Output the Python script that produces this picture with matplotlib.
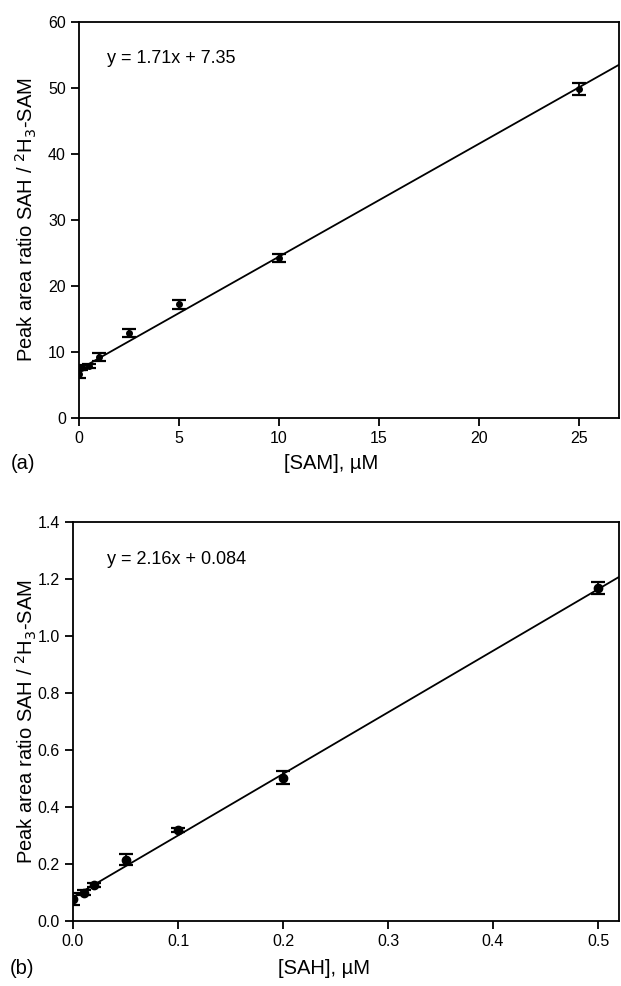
import numpy as np
import matplotlib.pyplot as plt

plt.rcParams['font.family'] = ['Liberation Sans', 'DejaVu Sans']

# (a) SAM calibration
sam_x = [0, 0.1, 0.5, 1, 2.5, 5, 10, 25]
sam_y = [6.7, 7.6, 7.9, 9.2, 12.9, 17.2, 24.2, 49.9]
sam_err = [0.6, 0.4, 0.3, 0.6, 0.6, 0.7, 0.6, 0.9]
sam_fit = (1.71, 7.35)

# (b) SAH calibration
sah_x = [0, 0.01, 0.02, 0.05, 0.1, 0.2, 0.5]
sah_y = [0.078, 0.100, 0.127, 0.215, 0.320, 0.503, 1.168]
sah_err = [0.022, 0.008, 0.008, 0.020, 0.008, 0.022, 0.022]
sah_fit = (2.16, 0.084)

ylab = r'Peak area ratio SAH / $^{2}$H$_{3}$-SAM'

fig = plt.figure(figsize=(6.21, 9.86), dpi=100)
ax1 = fig.add_axes([79 / 621, 1 - 418 / 986, 540 / 621, 396 / 986])
ax2 = fig.add_axes([73 / 621, 1 - 921 / 986, 546 / 621, 399 / 986])


def style(ax):
    ax.set_facecolor('none')
    for s in ax.spines.values():
        s.set_linewidth(1.3)
    ax.tick_params(direction='out', length=6, width=1.3, labelsize=11.5,
                   top=False, right=False)
    ax.xaxis.label.set_va('center')
    ax.yaxis.label.set_va('center')


# ----- panel a -----
xx = np.array([0, 27])
ax1.plot(xx, sam_fit[0] * xx + sam_fit[1], color='black', lw=1.3)
ax1.errorbar(sam_x, sam_y, yerr=sam_err, fmt='o', color='black', ms=4,
             capsize=5, elinewidth=1.3, capthick=1.6)
ax1.set_xlim(0, 27)
ax1.set_ylim(0, 60)
ax1.set_xticks([0, 5, 10, 15, 20, 25])
ax1.set_yticks([0, 10, 20, 30, 40, 50, 60])
ax1.set_ylabel(ylab, fontsize=14.5)
ax1.set_xlabel('[SAM], µM', fontsize=14.5)
ax1.xaxis.set_label_coords(0.467, -0.114)
ax1.yaxis.set_label_coords(-0.098, 0.5)
ax1.text(0.052, 0.909, 'y = 1.71x + 7.35', transform=ax1.transAxes,
         fontsize=13, ha='left', va='center')
style(ax1)

# ----- panel b -----
xx = np.array([0, 0.53])
ax2.plot(xx, sah_fit[0] * xx + sah_fit[1], color='black', lw=1.3)
ax2.errorbar(sah_x, sah_y, yerr=sah_err, fmt='o', color='black', ms=6,
             capsize=5, elinewidth=1.3, capthick=1.6)
ax2.set_xlim(0, 0.52)
ax2.set_ylim(0, 1.4)
ax2.set_xticks([0, 0.1, 0.2, 0.3, 0.4, 0.5])
ax2.set_xticklabels(['0.0', '0.1', '0.2', '0.3', '0.4', '0.5'])
ax2.set_yticks(np.arange(0, 1.41, 0.2))
ax2.set_yticklabels([f'{v:.1f}' for v in np.arange(0, 1.41, 0.2)])
ax2.set_ylabel(ylab, fontsize=14.5)
ax2.set_xlabel('[SAH], µM', fontsize=14.5)
ax2.xaxis.set_label_coords(0.46, -0.118)
ax2.yaxis.set_label_coords(-0.086, 0.5)
ax2.text(0.062, 0.905, 'y = 2.16x + 0.084', transform=ax2.transAxes,
         fontsize=13, ha='left', va='center')
style(ax2)

fig.text(0.018, 1 - 463 / 986, '(a)', fontsize=14.5, va='center')
fig.text(0.016, 1 - 968 / 986, '(b)', fontsize=14.5, va='center')

fig.savefig('out.png', dpi=100)
